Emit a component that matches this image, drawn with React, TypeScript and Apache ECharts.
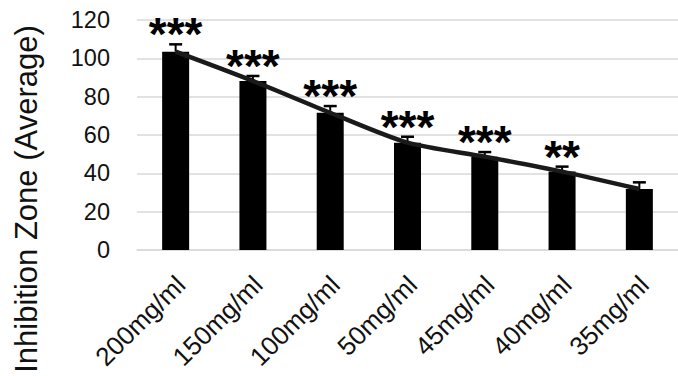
import React, { useEffect, useRef } from "react";
import * as echarts from "echarts";

const categories = ["200mg/ml", "150mg/ml", "100mg/ml", "50mg/ml", "45mg/ml", "40mg/ml", "35mg/ml"];
const averages = [103.5, 88.2, 71.6, 56.0, 48.7, 40.9, 31.8];
const errors = [3.8, 2.6, 3.5, 3.1, 2.4, 2.6, 3.5];
const significance = ["***", "***", "***", "***", "***", "**", ""];
const yTicks = { min: 0, max: 120, interval: 20 };
const yTitle = "Inhibition Zone (Average)";

const FONT = "'Liberation Sans', Arial, sans-serif";

export default function App() {
  const ref = useRef<HTMLDivElement>(null);
  useEffect(() => {
    if (!ref.current) return;
    const chart = echarts.init(ref.current, undefined, { renderer: "svg" });
    const errData = averages.map((v, i) => [i, v, errors[i]]);
    chart.setOption({
      animation: false,
      backgroundColor: "#fff",
      grid: { left: 137, top: 20, width: 553, height: 230, containLabel: false },
      xAxis: {
        type: "category",
        data: categories,
        axisLine: { show: true, lineStyle: { color: "#d9d9d9", width: 1.5 } },
        axisTick: { show: false },
        axisLabel: {
          rotate: 45,
          interval: 0,
          margin: 17,
          color: "#111",
          fontSize: 26,
          fontFamily: FONT,
          verticalAlign: "top",
          lineHeight: 26,
          padding: [0, 6, 0, 0],
        },
      },
      yAxis: {
        type: "value",
        min: yTicks.min,
        max: yTicks.max,
        interval: yTicks.interval,
        axisLine: { show: false },
        axisTick: { show: false },
        splitLine: { show: true, lineStyle: { color: "#d9d9d9", width: 1.5 } },
        axisLabel: { color: "#111", fontSize: 23.5, fontFamily: FONT, margin: 27 },
      },
      graphic: [
        {
          type: "text",
          x: 26,
          y: 199,
          rotation: Math.PI / 2,
          style: {
            text: yTitle,
            fontSize: 31,
            fontFamily: FONT,
            fill: "#111",
            align: "center",
            verticalAlign: "middle",
          },
        },
      ],
      series: [
        {
          type: "bar",
          data: averages,
          barWidth: 27,
          itemStyle: { color: "#000" },
          z: 2,
        },
        {
          type: "custom",
          data: errData,
          z: 3,
          renderItem: (params: any, api: any) => {
            const i = api.value(0);
            const v = api.value(1);
            const e = api.value(2);
            const p1 = api.coord([i, v]);
            const p2 = api.coord([i, v + e]);
            const sig = significance[params.dataIndex];
            return {
              type: "group",
              children: [
                {
                  type: "line",
                  shape: { x1: p1[0], y1: p1[1], x2: p2[0], y2: p2[1] },
                  style: { stroke: "#000", lineWidth: 2 },
                },
                {
                  type: "line",
                  shape: { x1: p2[0] - 6.5, y1: p2[1], x2: p2[0] + 6.5, y2: p2[1] },
                  style: { stroke: "#000", lineWidth: 2.5 },
                },
                {
                  type: "text",
                  x: p2[0],
                  y: p2[1] - 10,
                  style: {
                    text: sig,
                    fontSize: 46,
                    fontWeight: "bold",
                    fontFamily: FONT,
                    fill: "#000",
                    align: "center",
                    verticalAlign: "middle",
                  },
                },
              ],
            };
          },
        },
        {
          type: "line",
          data: averages,
          smooth: 0.25,
          symbol: "none",
          lineStyle: { color: "#1a1a1a", width: 4.5 },
          z: 4,
        },
      ],
    });
    return () => chart.dispose();
  }, []);
  return (
    <div
      ref={ref}
      style={{ position: "fixed", left: 0, top: 0, width: 678, height: 376, background: "#fff" }}
    />
  );
}
